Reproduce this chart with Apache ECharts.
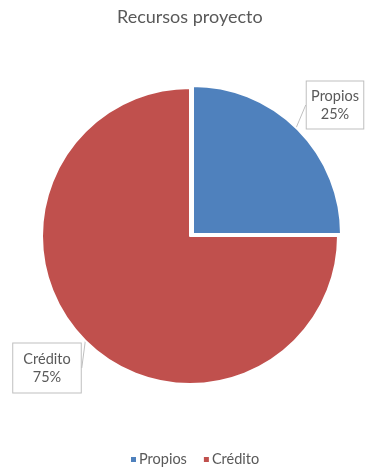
<!DOCTYPE html>
<html>
<head>
<meta charset="utf-8">
<script src="https://cdn.jsdelivr.net/npm/echarts@6/dist/echarts.min.js"></script>
<style>
html,body{margin:0;padding:0;background:#fff;}
#chart{width:369px;height:467px;}
</style>
</head>
<body>
<div id="chart"></div>
<script>
const titleText = 'Recursos proyecto';
const categories = ['Propios', 'Crédito'];
const values = [25, 75];
const colors = ['#4F81BD', '#C0504D'];
const labelPositions = [[335, 105], [47, 368]];
const labelPaddings = [[6, 8, 5, 8], [7, 11, 6, 11]];
const explodedIndex = 0;

const chart = echarts.init(document.getElementById('chart'));
const font = 'Lato, "Open Sans", sans-serif';
const transparent = 'rgba(0,0,0,0)';

const baseCenter = [190, 236];
const explodeShift = [3, -2];

chart.setOption({
  animation: false,
  title: {
    text: titleText,
    left: 112,
    top: 3,
    textStyle: { fontFamily: font, fontSize: 18, fontWeight: 'normal', color: '#595959' }
  },
  legend: {
    data: categories.map(function (c, i) {
      return { name: c, itemStyle: { color: colors[i], borderWidth: 0 } };
    }),
    top: 447,
    left: 126,
    icon: 'rect',
    itemWidth: 5,
    itemHeight: 5,
    itemGap: 17,
    textStyle: { fontFamily: font, fontSize: 14.5, color: '#595959', padding: [0, 0, 0, -2] }
  },
  series: [{
    type: 'pie',
    name: 'main',
    center: baseCenter,
    radius: [0, 148],
    startAngle: 90,
    clockwise: true,
    itemStyle: { borderColor: '#fff', borderWidth: 2 },
    label: {
      show: true,
      position: 'outside',
      overflow: 'none',
      formatter: function (p) { return p.name + '\n' + p.value + '%'; },
      fontFamily: font,
      fontSize: 14.5,
      lineHeight: 18,
      color: '#595959',
      backgroundColor: '#fff',
      borderColor: '#bfbfbf',
      borderWidth: 1,
      align: 'center'
    },
    labelLine: {
      show: true,
      length: 4,
      length2: 0,
      lineStyle: { color: '#bfbfbf', width: 1 }
    },
    labelLayout: function (params) {
      const pos = labelPositions[params.dataIndex];
      return { x: pos[0], y: pos[1], align: 'center', verticalAlign: 'middle' };
    },
    data: categories.map(function (c, i) {
      return {
        name: c, value: values[i],
        label: { padding: labelPaddings[i] },
        itemStyle: i === explodedIndex
          ? { color: transparent, borderWidth: 0 }
          : { color: colors[i] }
      };
    })
  }, {
    type: 'pie',
    name: 'exploded',
    silent: true,
    center: [baseCenter[0] + explodeShift[0], baseCenter[1] + explodeShift[1]],
    radius: [0, 148],
    startAngle: 90,
    clockwise: true,
    itemStyle: { borderColor: '#fff', borderWidth: 2 },
    label: { show: false },
    labelLine: { show: false },
    data: categories.map(function (c, i) {
      return {
        name: c, value: values[i],
        itemStyle: i === explodedIndex
          ? { color: colors[i] }
          : { color: transparent, borderWidth: 0 }
      };
    })
  }]
});
</script>
</body>
</html>
